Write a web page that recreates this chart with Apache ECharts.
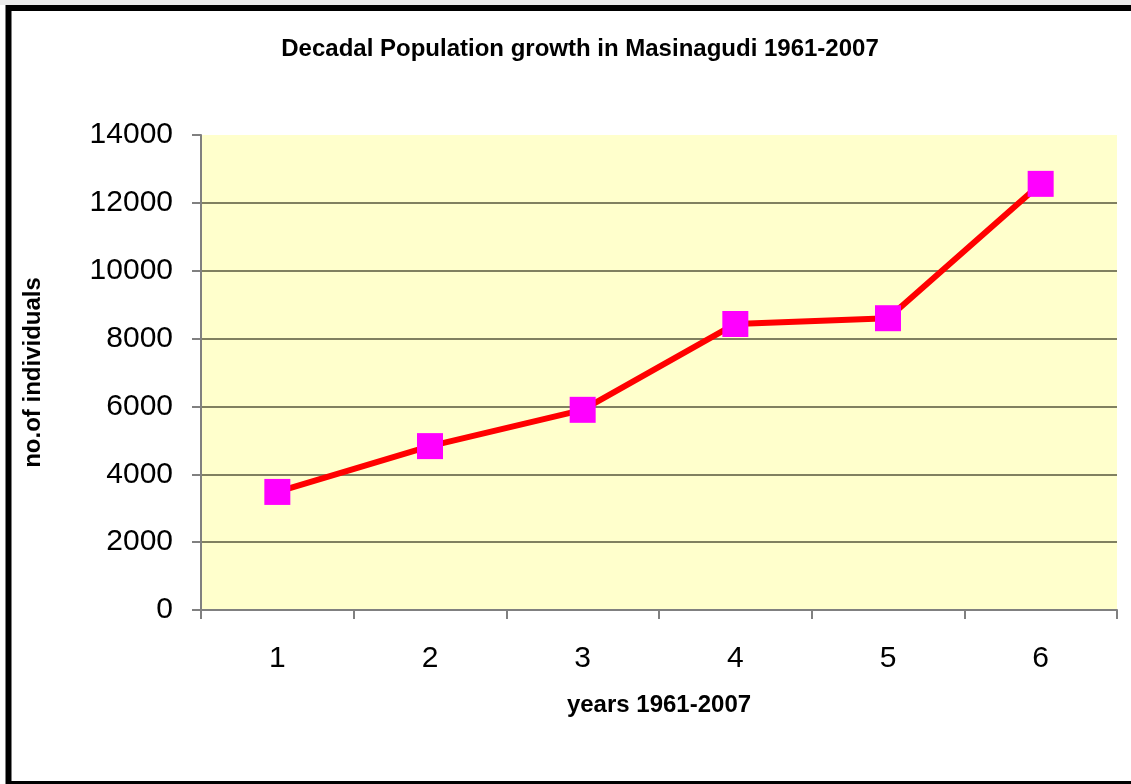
<!DOCTYPE html>
<html>
<head>
<meta charset="utf-8">
<script src="https://cdn.jsdelivr.net/npm/echarts@6/dist/echarts.min.js"></script>
<style>
  html, body { margin: 0; padding: 0; background: #fff; }
  #chart { width: 1131px; height: 784px; }
</style>
</head>
<body>
<div id="chart"></div>
<script>
// data
var years = ["1", "2", "3", "4", "5", "6"];
var population = [3480, 4830, 5900, 8430, 8600, 12560];
var yTicks = [0, 2000, 4000, 6000, 8000, 10000, 12000, 14000];

var font = "Arial, 'Liberation Sans', sans-serif";

// no gridline on the top edge (14000)
var gridColors = yTicks.map(function (v, i) {
  return i === yTicks.length - 1 ? "rgba(0,0,0,0)" : "#808060";
});

var myChart = echarts.init(document.getElementById("chart"));
var option = {
  backgroundColor: "#fff",
  animation: false,
  title: {
    text: "Decadal Population growth in Masinagudi 1961-2007",
    left: 575,
    top: 32,
    textAlign: "center",
    textStyle: { fontFamily: font, fontSize: 24, fontWeight: "bold", color: "#000" }
  },
  grid: {
    left: 201,
    top: 135,
    right: 14,
    bottom: 174,
    show: true,
    backgroundColor: "#FFFFCC",
    borderWidth: 0
  },
  xAxis: {
    type: "category",
    data: years,
    boundaryGap: true,
    name: "years 1961-2007",
    nameLocation: "middle",
    nameGap: 83,
    nameTextStyle: { fontFamily: font, fontSize: 24, fontWeight: "bold", color: "#000" },
    axisLine: { lineStyle: { color: "#808080", width: 2 } },
    axisTick: { show: true, length: 9, lineStyle: { color: "#808080", width: 2 } },
    axisLabel: { fontFamily: font, fontSize: 30, color: "#000", margin: 34 },
    splitLine: { show: false }
  },
  yAxis: {
    type: "value",
    min: 0,
    max: 14000,
    interval: 2000,
    name: "no.of individuals",
    nameLocation: "middle",
    nameGap: 156,
    nameTextStyle: { fontFamily: font, fontSize: 24, fontWeight: "bold", color: "#000" },
    axisLine: { show: true, lineStyle: { color: "#808080", width: 2 } },
    axisTick: { show: true, length: 9, lineStyle: { color: "#808080", width: 2 } },
    axisLabel: {
      fontFamily: font, fontSize: 30, color: "#000", margin: 28,
      formatter: function (v) { return String(v); }
    },
    splitLine: { show: true, lineStyle: { color: gridColors, width: 2 } }
  },
  series: [
    {
      type: "line",
      data: population,
      symbol: "rect",
      symbolSize: 26,
      lineStyle: { color: "#FF0000", width: 6 },
      itemStyle: { color: "#FF00FF", borderWidth: 0 },
      z: 3
    }
  ],
  graphic: [
    { type: "rect", shape: { x: 0, y: 0, width: 1131, height: 5 }, style: { fill: "#ebebeb" }, z: 10 },
    { type: "rect", shape: { x: 8.5, y: 8, width: 1140, height: 776 }, style: { fill: null, stroke: "#000", lineWidth: 6 }, z: 10 }
  ]
};
myChart.setOption(option);
window.addEventListener("resize", function () {
  myChart.resize();
});
</script>
</body>
</html>
